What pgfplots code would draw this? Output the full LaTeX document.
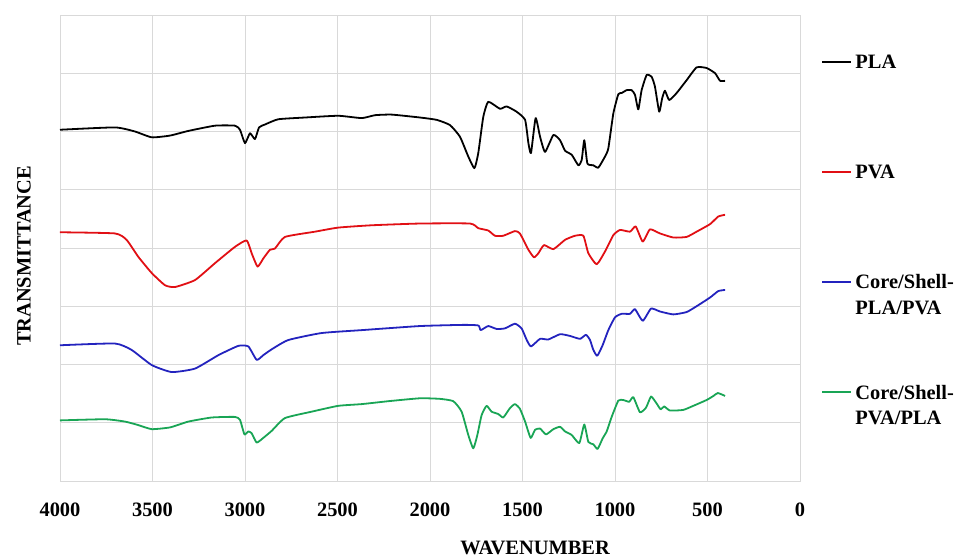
\documentclass[border=0pt]{standalone}
\usepackage{pgfplots}
\pgfplotsset{compat=1.18}
\usepackage{fontspec}
\setmainfont{Liberation Serif}
\definecolor{cPVA}{RGB}{225,15,20}
\definecolor{cCS1}{RGB}{35,35,190}
\definecolor{cCS2}{RGB}{25,165,85}
\definecolor{gridc}{RGB}{217,217,217}
\newcommand{\lbl}{\bfseries\fontsize{20.5}{26}\selectfont}
\begin{document}
\begin{tikzpicture}
\begin{axis}[
  scale only axis,
  width=740bp, height=466bp,
  xmin=0, xmax=4000, ymin=0, ymax=8,
  x dir=reverse,
  xtick={0,500,...,4000},
  ytick={0,1,...,8},
  yticklabels={,,,,,,,,},
  grid=major,
  major grid style={draw=gridc, line width=0.9bp},
  axis line style={draw=gridc, line width=0.9bp},
  major tick length=0pt,
  /pgf/number format/assume math mode=true,
  /pgf/number format/1000 sep={},
  xticklabel style={font=\lbl, anchor=north, yshift=-18bp},
  xlabel={WAVENUMBER},
  ylabel={TRANSMITTANCE},
  xlabel style={font=\lbl, inner sep=0pt, at={(axis description cs:0.642,0)}, anchor=base, yshift=-74bp},
  ylabel style={font=\lbl, at={(axis description cs:0,0.483)}, anchor=center, yshift=36bp},
  legend style={draw=none, fill=none, inner sep=0pt, font=\lbl,
    nodes={inner sep=0pt, anchor=base west},
    row sep=90.5bp, column sep=3.3bp,
    at={(axis description cs:1,1)}, anchor=north west, xshift=21.2bp, yshift=-35.3bp},
  legend cell align=left,
  legend image code/.code={\path (0bp,0bp); \draw[#1, line width=1.8bp] (0bp,7bp) -- (29bp,7bp);},
  every axis plot/.append style={line width=1.8bp, line join=round, smooth, tension=0.3},
]
\addplot[black] coordinates {(4000,6.03)(3703,6.07)(3595,6.00)(3504,5.90)(3405,5.93)(3306,6.01)(3162,6.10)(3054,6.10)(3027,6.03)(3000,5.80)(2973,5.97)(2946,5.87)(2924,6.07)(2892,6.12)(2820,6.21)(2676,6.24)(2496,6.27)(2369,6.23)(2297,6.28)(2207,6.29)(2054,6.24)(1964,6.20)(1892,6.11)(1838,5.91)(1793,5.57)(1760,5.37)(1739,5.63)(1712,6.25)(1685,6.51)(1622,6.39)(1586,6.43)(1532,6.34)(1486,6.20)(1468,5.80)(1454,5.63)(1429,6.23)(1405,5.91)(1378,5.65)(1333,5.94)(1297,5.85)(1270,5.67)(1234,5.60)(1198,5.42)(1180,5.51)(1166,5.85)(1149,5.45)(1117,5.42)(1090,5.38)(1054,5.57)(1036,5.71)(1009,6.31)(982,6.64)(964,6.66)(937,6.71)(910,6.71)(892,6.63)(874,6.38)(856,6.71)(829,6.97)(802,6.94)(784,6.77)(761,6.34)(745,6.57)(730,6.70)(707,6.54)(667,6.66)(613,6.88)(559,7.10)(505,7.09)(459,7.00)(432,6.87)(405,6.87)};
\addlegendentry{\begin{tabular}[t]{@{}l@{}}PLA\\ {}\end{tabular}}
\addplot[cPVA] coordinates {(4000,4.27)(3703,4.25)(3640,4.14)(3577,3.85)(3504,3.57)(3432,3.36)(3378,3.33)(3270,3.45)(3162,3.74)(3054,4.02)(2991,4.13)(2964,3.91)(2932,3.68)(2901,3.82)(2865,3.97)(2838,3.99)(2784,4.19)(2622,4.28)(2496,4.35)(2315,4.39)(2054,4.42)(1784,4.42)(1739,4.34)(1685,4.30)(1649,4.21)(1604,4.21)(1541,4.29)(1514,4.25)(1468,3.97)(1438,3.84)(1414,3.91)(1384,4.05)(1333,3.98)(1270,4.14)(1216,4.21)(1171,4.21)(1144,3.91)(1099,3.72)(1054,3.94)(1009,4.22)(973,4.31)(919,4.28)(888,4.37)(850,4.11)(811,4.32)(757,4.25)(685,4.18)(613,4.19)(559,4.28)(486,4.41)(442,4.54)(405,4.57)};
\addlegendentry{\begin{tabular}[t]{@{}l@{}}PVA\\ {}\end{tabular}}
\addplot[cCS1] coordinates {(4000,2.33)(3703,2.36)(3613,2.25)(3504,1.99)(3396,1.87)(3270,1.93)(3144,2.16)(3036,2.32)(2982,2.31)(2937,2.08)(2901,2.16)(2856,2.26)(2766,2.42)(2586,2.54)(2369,2.59)(2054,2.66)(1820,2.68)(1739,2.67)(1726,2.59)(1685,2.66)(1640,2.61)(1595,2.62)(1541,2.70)(1505,2.62)(1477,2.42)(1454,2.31)(1405,2.44)(1360,2.43)(1297,2.52)(1243,2.49)(1189,2.44)(1157,2.51)(1135,2.42)(1117,2.25)(1096,2.15)(1067,2.33)(1036,2.59)(1000,2.81)(964,2.87)(919,2.87)(892,2.95)(850,2.75)(805,2.96)(757,2.91)(685,2.86)(613,2.90)(559,3.00)(486,3.15)(442,3.26)(405,3.28)};
\addlegendentry{\begin{tabular}[t]{@{}l@{}}Core/Shell-\\PLA/PVA\end{tabular}}
\addplot[cCS2] coordinates {(4000,1.04)(3757,1.06)(3649,1.02)(3577,0.96)(3504,0.89)(3405,0.92)(3306,1.02)(3180,1.09)(3054,1.10)(3027,1.05)(3003,0.80)(2982,0.85)(2964,0.82)(2937,0.66)(2901,0.74)(2856,0.86)(2784,1.08)(2640,1.19)(2496,1.29)(2369,1.32)(2225,1.37)(2054,1.42)(1946,1.41)(1874,1.37)(1829,1.19)(1793,0.79)(1766,0.56)(1744,0.79)(1721,1.13)(1694,1.29)(1667,1.19)(1631,1.15)(1604,1.09)(1568,1.25)(1541,1.32)(1514,1.24)(1486,1.02)(1456,0.74)(1432,0.88)(1405,0.90)(1373,0.80)(1333,0.89)(1297,0.93)(1270,0.85)(1234,0.79)(1193,0.65)(1166,0.97)(1144,0.67)(1117,0.63)(1094,0.55)(1067,0.73)(1045,0.85)(1018,1.10)(982,1.38)(955,1.39)(923,1.36)(901,1.44)(865,1.18)(832,1.26)(805,1.45)(775,1.33)(753,1.23)(734,1.28)(703,1.21)(631,1.22)(577,1.29)(505,1.39)(468,1.46)(444,1.51)(405,1.46)};
\addlegendentry{\begin{tabular}[t]{@{}l@{}}Core/Shell-\\PVA/PLA\end{tabular}}
\end{axis}
\pgfresetboundingbox
\path[use as bounding box] ([xshift=-60bp,yshift=-77bp]current axis.south west) rectangle ([xshift=158bp,yshift=15bp]current axis.north east);
\end{tikzpicture}
\end{document}
